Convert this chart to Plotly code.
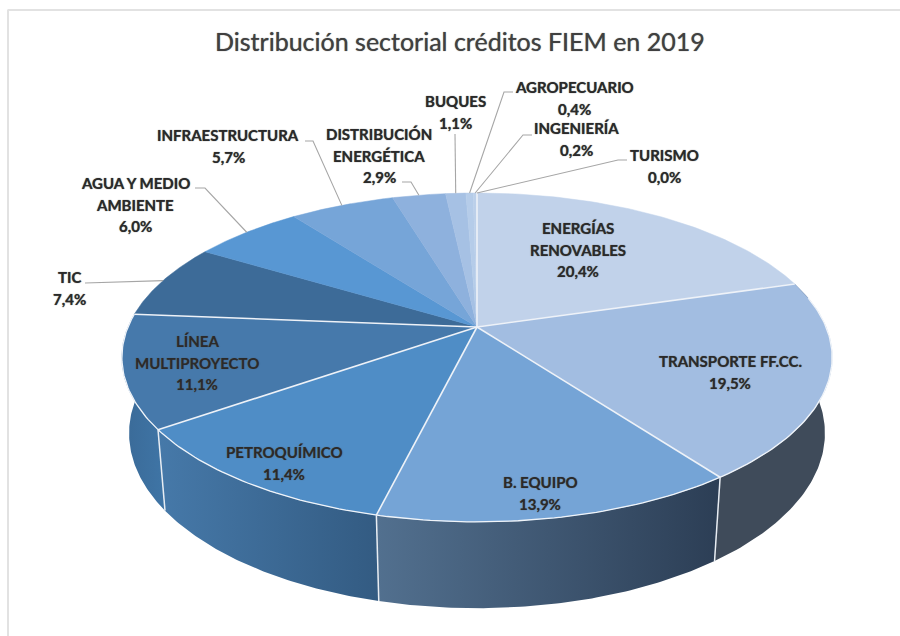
import numpy as np
import plotly.graph_objects as go

# ---- data ----
sectors = ["ENERGÍAS\nRENOVABLES", "TRANSPORTE FF.CC.", "B. EQUIPO", "PETROQUÍMICO",
           "LÍNEA\nMULTIPROYECTO", "TIC", "AGUA Y MEDIO\nAMBIENTE", "INFRAESTRUCTURA",
           "DISTRIBUCIÓN\nENERGÉTICA", "BUQUES", "AGROPECUARIO", "INGENIERÍA", "TURISMO"]
shares = [20.4, 19.5, 13.9, 11.4, 11.1, 7.4, 6.0, 5.7, 2.9, 1.1, 0.4, 0.2, 0.0]
title_text = "Distribución sectorial créditos FIEM en 2019"

# ---- styles ----
top_colors = ["#c1d2ea", "#a2bde1", "#75a4d6", "#4f8dc6", "#4679ab", "#3d6b98", "#5897d3",
              "#76a5d8", "#8eb1dd", "#a6c1e4", "#b5cce9", "#bcd0ea", "#c1d2ea"]
wall_grads = {1: ("#3f4b5a", "#3f4b5a"), 2: ("#52708f", "#2c3e55"),
              3: ("#4679a9", "#335b82"), 4: ("#3a6a97", "#3f75a6")}
white_edge = [True, True, True, True, True, True, False, False, False, False, False, False, False]
label_font = dict(family="Lato", size=15, color="#2a2a2a", weight="bold", shadow="0 0 1px #555555")

# ---- layout of labels (pixel axes): one centre per label, first line y, line step ----
label_pos = [(578, 228), (730, 361), (540, 482), (284, 452), (197, 341), (69, 277), (135, 183),
             (228, 135), (379, 134), (455, 101), (574, 87), (576, 128), (664, 155)]
line_step = 21.5
leaders = {5: [(85, 283)], 6: [(195, 188), (205, 188)], 7: [(305, 141), (313, 141)],
           8: [(402, 182), (411, 182)], 9: [(455, 134)], 10: [(513, 92), (504, 92)],
           11: [(532, 135), (523, 135)], 12: [(627, 160), (618, 160)]}

# ---- perspective projection of the disc ----
CX, CY, A, B, K, DROP, BOT = 477, 327, 349, 158.8, 0.185, 76, 0.02


def project(theta, lower=False):
    X, Y = np.sin(theta), np.cos(theta)
    w = 1 + K * Y + (BOT if lower else 0)
    return CX + A * X / w, CY + (-B * Y + (DROP if lower else 0)) / w


edges = np.radians(np.concatenate([[0], np.cumsum(shares)]) * 3.6)
edges = edges * (2 * np.pi / edges[-1])
fig = go.Figure()

# walls first
for i, (c0, c1) in wall_grads.items():
    t = np.linspace(edges[i], edges[i + 1], 80)
    xt, yt = project(t)
    xb, yb = project(t[::-1], lower=True)
    fig.add_trace(go.Scatter(
        x=np.r_[xt, xb, xt[0]], y=np.r_[yt, yb, yt[0]], mode="lines", fill="toself",
        line=dict(color="rgba(255,255,255,0)", width=0), hoverinfo="skip",
        fillgradient=dict(type="horizontal", colorscale=[[0, c0], [1, c1]])))
# wall seams
for i in [2, 3, 4]:
    x0, y0 = project(edges[i])
    x1, y1 = project(edges[i], lower=True)
    fig.add_trace(go.Scatter(x=[x0, x1], y=[y0, y1], mode="lines",
                             line=dict(color="#e8edf3", width=1.5), hoverinfo="skip"))

# top face
for i, name in enumerate(sectors):
    if shares[i] == 0:
        continue
    t = np.linspace(edges[i], edges[i + 1], 80)
    xa, ya = project(t)
    fig.add_trace(go.Scatter(
        x=np.r_[CX, xa, CX], y=np.r_[CY, ya, CY], mode="lines", fill="toself",
        fillcolor=top_colors[i], line=dict(color=top_colors[i], width=0.5),
        name=name.replace("\n", " "), hovertemplate="%{fullData.name}<extra></extra>"))
# slice separators
for i in range(len(sectors)):
    if white_edge[i]:
        x0, y0 = project(edges[i])
        fig.add_trace(go.Scatter(x=[CX, x0], y=[CY, y0], mode="lines",
                                 line=dict(color="#eef2f8", width=1.6), hoverinfo="skip"))
# rim highlight on the front
t = np.linspace(edges[1] + 0.1, edges[5], 200)
xr, yr = project(t)
fig.add_trace(go.Scatter(x=xr, y=yr, mode="lines", line=dict(color="#f0f4f9", width=1.3), hoverinfo="skip"))

# leader lines
for i, pts in leaders.items():
    rim = project((edges[i] + edges[i + 1]) / 2)
    xs = [p[0] for p in pts] + [float(rim[0])]
    ys = [p[1] for p in pts] + [float(rim[1])]
    fig.add_trace(go.Scatter(x=xs, y=ys, mode="lines", line=dict(color="#a6a6a6", width=1.1), hoverinfo="skip"))

# labels
ann = []
for i, name in enumerate(sectors):
    lines = name.split("\n") + [f"{shares[i]:.1f}%".replace(".", ",")]
    px, py = label_pos[i]
    for j, s in enumerate(lines):
        ann.append(dict(x=px, y=py + j * line_step, text=s, showarrow=False, xref="x", yref="y",
                        xanchor="center", yanchor="middle", font=label_font))
ann.append(dict(x=460, y=41, text=title_text, showarrow=False, xref="x", yref="y",
                xanchor="center", yanchor="middle",
                font=dict(family="Lato", size=25, color="#404040", shadow="0 0 1px #666666")))
ann.append(dict(x=479, y=-3, text="p", showarrow=False, xref="x", yref="y",
                xanchor="center", yanchor="middle",
                font=dict(family="Lato", size=13, color="#111111")))

fig.update_layout(
    width=900, height=636, margin=dict(l=0, r=0, t=0, b=0), showlegend=False,
    paper_bgcolor="white", plot_bgcolor="white", annotations=ann,
    xaxis=dict(range=[0, 900], visible=False, fixedrange=True),
    yaxis=dict(range=[636, 0], visible=False, fixedrange=True),
    shapes=[dict(type="line", xref="x", yref="y", x0=7.5, x1=900, y0=10, y1=10,
                 line=dict(color="#e2e2e2", width=2)),
            dict(type="line", xref="x", yref="y", x0=8, x1=8, y0=10, y1=636,
                 line=dict(color="#e2e2e2", width=2))],
)
fig.write_html("out.html", config=dict(displayModeBar=False),
               post_script="document.body.style.margin='0';document.body.style.overflow='hidden';")
